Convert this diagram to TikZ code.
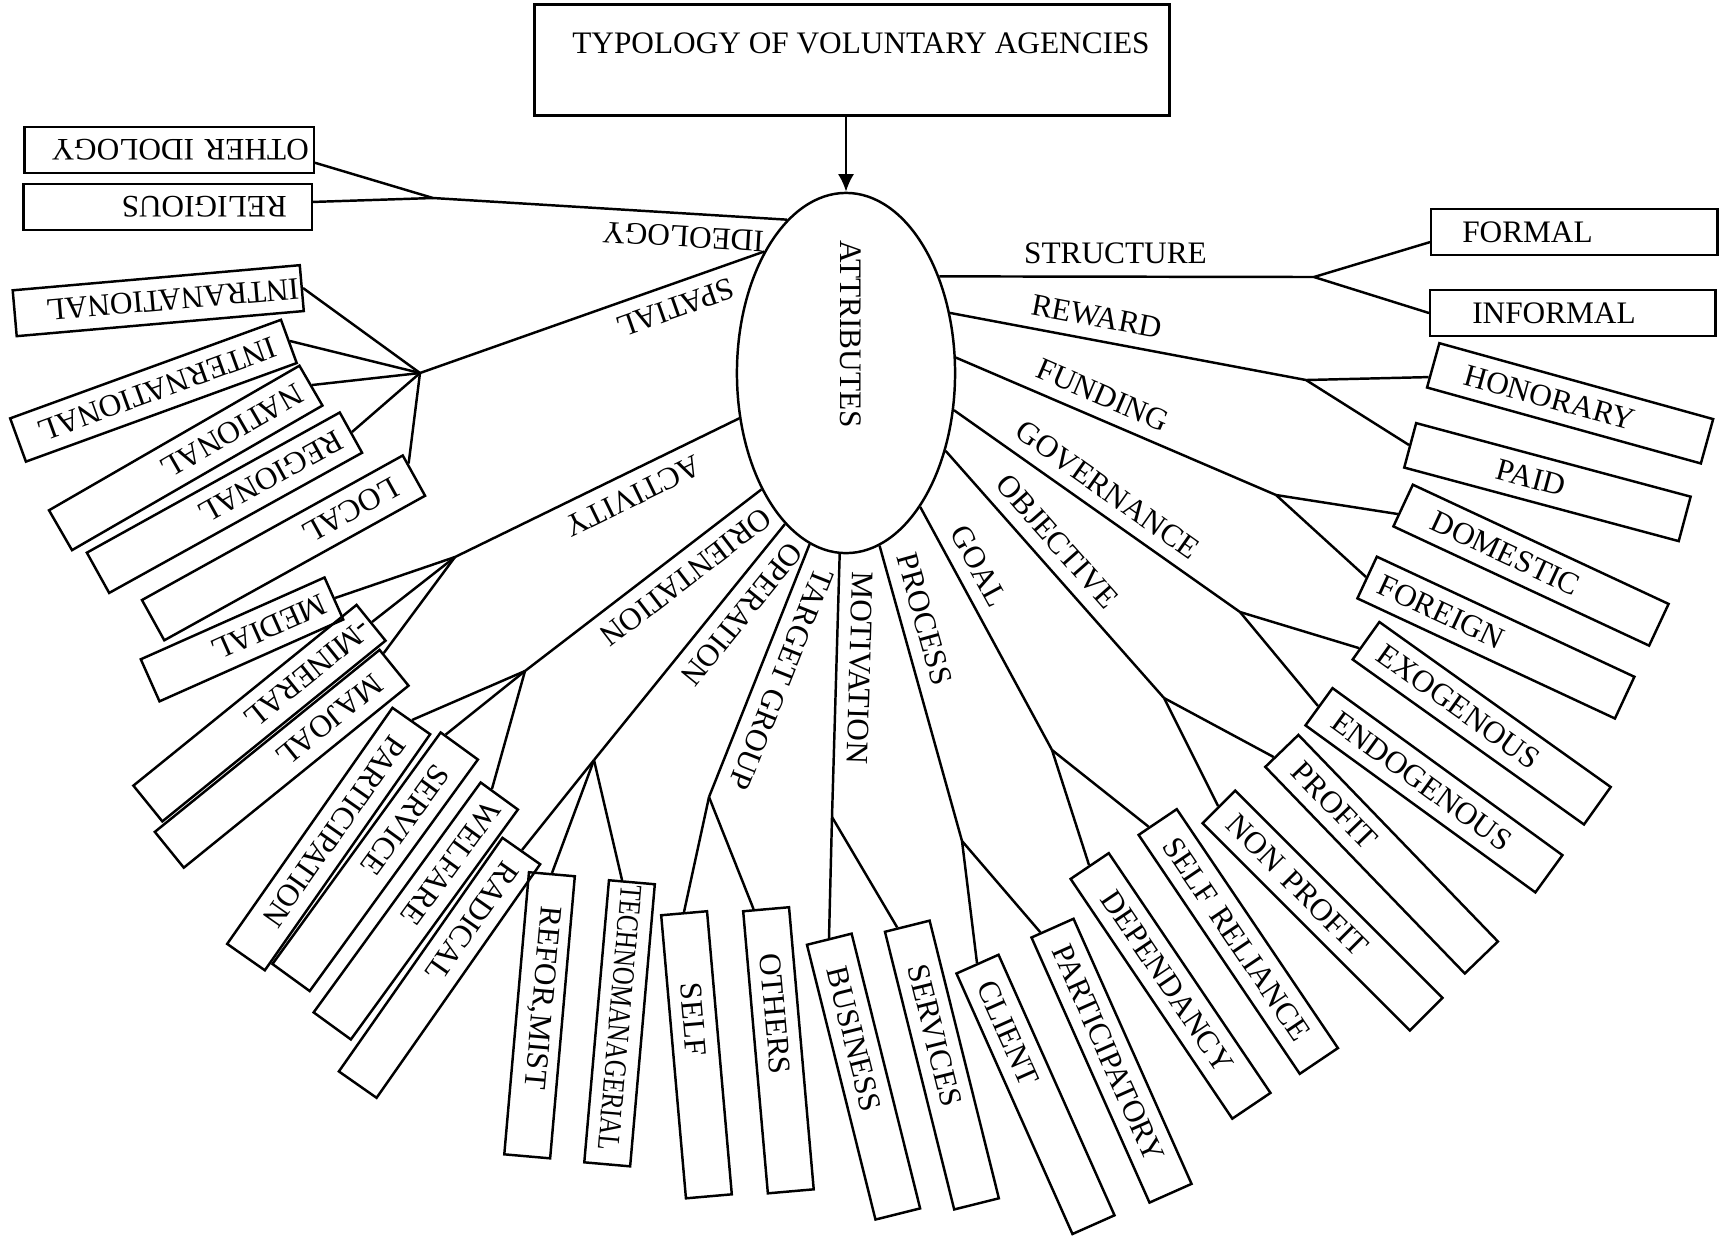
\documentclass[tikz,border=0pt]{standalone}
\usepackage{fontspec}
\setmainfont{Liberation Serif}
\usetikzlibrary{shapes.geometric,arrows.meta}

\begin{document}
\begin{tikzpicture}[x=0.01cm, y=-0.01cm, line width=0.7pt,
    every node/.append style={font=\fontsize{8.9}{10.7}\selectfont},
    catbox/.style={draw, anchor=west, minimum height=0.46cm, inner ysep=0pt, align=left},
    attrlabel/.style={sloped, above, allow upside down}]
\useasboundingbox (0,0) rectangle (1727,1238);

% ---- Title
\node[draw, minimum width=6.35cm, minimum height=1.11cm] (title) at (852,60) {};
\node (titleText) at (861,43) {TYPOLOGY OF VOLUNTARY AGENCIES};

% ---- Attributes
\node[draw, ellipse, minimum width=2.18cm, minimum height=3.6cm, inner sep=0pt] (attributes) at (846,373) {};
\node[rotate=-90] (attributesText) at (851,334) {ATTRIBUTES};
\draw[-{Latex[length=5pt,width=4.6pt]}] (title.south -| attributes.north) -- (attributes.north);

% ---- Junctions
\coordinate (ideologyJunction) at (433,198);
\coordinate (spatialJunction) at (420,373);
\coordinate (activityJunction) at (455,557);
\coordinate (orientationJunction) at (525,671);
\coordinate (operationJunction) at (594,760);
\coordinate (targetJunction) at (709,797);
\coordinate (motivationJunction) at (832,817);
\coordinate (processJunction) at (962,841);
\coordinate (goalJunction) at (1052,750);
\coordinate (objectiveJunction) at (1164,698);
\coordinate (governanceJunction) at (1240,612);
\coordinate (fundingJunction) at (1276,495);
\coordinate (rewardJunction) at (1306,380);
\coordinate (structureJunction) at (1314,277);

% ---- Attribute lines
\draw (attributes.111) -- node[attrlabel, pos=0.29] (ideologyLabel) {IDEOLOGY} (ideologyJunction);
\draw (attributes.124) -- node[attrlabel, pos=0.28] (spatialLabel) {SPATIAL} (spatialJunction);
\draw (attributes.203) -- node[attrlabel, pos=0.41] (activityLabel) {ACTIVITY} (activityJunction);
\draw (attributes.234) -- node[attrlabel, pos=0.38] (orientationLabel) {ORIENTATION} (orientationJunction);
\draw (attributes.248) -- node[attrlabel, pos=0.32] (operationLabel) {OPERATION} (operationJunction);
\draw (attributes.258) -- node[attrlabel, pos=0.5] (targetLabel) {TARGET GROUP} (targetJunction);
\draw (attributes.268) -- node[attrlabel, pos=0.43] (motivationLabel) {MOTIVATION} (motivationJunction);
\draw (attributes.281) -- node[attrlabel, pos=0.27] (processLabel) {PROCESS} (processJunction);
\draw (attributes.299) -- node[attrlabel, pos=0.29] (goalLabel) {GOAL} (goalJunction);
\draw (attributes.322) -- node[attrlabel, pos=0.43] (objectiveLabel) {OBJECTIVE} (objectiveJunction);
\draw (attributes.341) -- node[attrlabel, pos=0.49] (governanceLabel) {GOVERNANCE} (governanceJunction);
\draw (attributes.8) -- node[attrlabel, pos=0.43] (fundingLabel) {FUNDING} (fundingJunction);
\draw (attributes.30) -- node[attrlabel, pos=0.40] (rewardLabel) {REWARD} (rewardJunction);
\draw (attributes.46) -- node[attrlabel, pos=0.47] (structureLabel) {STRUCTURE} (structureJunction);

% ---- Ideology
\node[catbox, rotate=180, minimum width=2.89cm, text width=2.79cm, inner xsep=0.05cm] (otherIdology) at (315,150) {OTHER IDOLOGY};
\node[catbox, rotate=180, minimum width=2.88cm, text width=2.38cm, inner xsep=0.25cm] (religious) at (313,207) {RELIGIOUS};
\draw (ideologyJunction) -- (otherIdology.175);
\draw (ideologyJunction) -- (religious.182);

% ---- Spatial
\node[catbox, rotate=185, minimum width=2.88cm, text width=2.82cm, inner xsep=0.03cm] (intranational) at (303,288) {INTRANATIONAL};
\node[catbox, rotate=200, minimum width=2.88cm, text width=2.58cm, inner xsep=0.15cm] (international) at (290,341) {INTERNATIONAL};
\node[catbox, rotate=210, minimum width=2.89cm, text width=2.65cm, inner xsep=0.12cm] (national) at (312,385) {NATIONAL};
\node[catbox, rotate=209, minimum width=2.89cm, text width=2.65cm, inner xsep=0.12cm] (regional) at (352,432) {REGIONAL};
\node[catbox, rotate=209, minimum width=2.98cm, text width=2.58cm, inner xsep=0.2cm] (local) at (415,475) {LOCAL};
\draw (spatialJunction) -- (intranational.west);
\draw (spatialJunction) -- (international.west);
\draw (spatialJunction) -- (national.west);
\draw (spatialJunction) -- (regional.west);
\draw (spatialJunction) -- (local.185);

% ---- Activity
\node[catbox, rotate=204, minimum width=2.01cm, text width=1.81cm, inner xsep=0.1cm] (medial) at (335,598) {MEDIAL};
\node[catbox, rotate=219, minimum width=2.87cm, text width=2.77cm, inner xsep=0.05cm] (mineral) at (372,622) {-MINERAL};
\node[catbox, rotate=219, minimum width=2.89cm, text width=2.49cm, inner xsep=0.2cm] (majoal) at (395,667) {MAJOAL};
\draw (activityJunction) -- (medial.west);
\draw (activityJunction) -- (mineral.west);
\draw (activityJunction) -- (majoal.187);

% ---- Orientation
\node[catbox, rotate=235, minimum width=2.88cm, text width=2.44cm, inner xsep=0.22cm] (participation) at (412,720) {PARTICIPATION};
\node[catbox, rotate=234, minimum width=2.86cm, text width=2.30cm, inner xsep=0.28cm] (service) at (460,745) {SERVICE};
\node[catbox, rotate=234, minimum width=2.84cm, text width=2.64cm, inner xsep=0.1cm] (welfare) at (500,795) {WELFARE};
\draw (orientationJunction) -- (participation.west);
\draw (orientationJunction) -- (service.187);
\draw (orientationJunction) -- (welfare.184);

% ---- Operation
\node[catbox, rotate=235, minimum width=2.85cm, text width=2.51cm, inner xsep=0.17cm] (radical) at (522,850) {RADICAL};
\node[catbox, rotate=265, minimum width=2.83cm, text width=2.19cm, inner xsep=0.32cm] (reformist) at (552,873) {REFOR,MIST};
\node[catbox, rotate=265, minimum width=2.83cm, text width=2.77cm, inner xsep=0.03cm] (technomanagerial) at (632,881) {\scalebox{0.79}[1]{TECHNOMANAGERIAL}};
\draw (operationJunction) -- (radical.west);
\draw (operationJunction) -- (reformist.west);
\draw (operationJunction) -- (technomanagerial.184);

% ---- Target group
\node[catbox, rotate=-85, minimum width=2.84cm, text width=1.44cm, inner xsep=0.7cm] (self) at (684,912) {SELF};
\node[catbox, rotate=-85, minimum width=2.83cm, text width=1.95cm, inner xsep=0.44cm] (others) at (766,908) {OTHERS};
\draw (targetJunction) -- (self.west);
\draw (targetJunction) -- (others.185);

% ---- Motivation
\node[catbox, rotate=-76, minimum width=2.83cm, text width=2.25cm, inner xsep=0.29cm] (business) at (829,938) {BUSINESS};
\node[catbox, rotate=-76, minimum width=2.86cm, text width=2.06cm, inner xsep=0.4cm] (services) at (907,925) {SERVICES};
\draw (motivationJunction) -- (business.west);
\draw (motivationJunction) -- (services.184);

% ---- Process
\node[catbox, rotate=-66, minimum width=2.85cm, text width=2.45cm, inner xsep=0.2cm] (client) at (977,963) {CLIENT};
\node[catbox, rotate=-66, minimum width=2.9cm, text width=2.5cm, inner xsep=0.2cm] (participatory) at (1052,927) {PARTICIPATORY};
\draw (processJunction) -- (client.west);
\draw (processJunction) -- (participatory.185);

% ---- Goal
\node[catbox, rotate=-56, minimum width=2.89cm, text width=2.23cm, inner xsep=0.33cm] (dependancy) at (1089,865) {DEPENDANCY};
\node[catbox, rotate=-56, minimum width=2.88cm, text width=2.44cm, inner xsep=0.22cm] (selfReliance) at (1157,821) {SELF RELIANCE};
\draw (goalJunction) -- (dependancy.west);
\draw (goalJunction) -- (selfReliance.184);

% ---- Objective
\node[catbox, rotate=-45, minimum width=2.93cm, text width=2.57cm, inner xsep=0.18cm] (nonProfit) at (1218,806) {NON PROFIT};
\node[catbox, rotate=-46, minimum width=2.87cm, text width=2.43cm, inner xsep=0.22cm] (profit) at (1281,750) {PROFIT};
\draw (objectiveJunction) -- (nonProfit.west);
\draw (objectiveJunction) -- (profit.184);

% ---- Governance
\node[catbox, rotate=-36, minimum width=2.84cm, text width=2.44cm, inner xsep=0.2cm] (endogenous) at (1318,706) {ENDOGENOUS};
\node[catbox, rotate=-35.5, minimum width=2.84cm, text width=2.48cm, inner xsep=0.18cm] (exogenous) at (1365,640) {EXOGENOUS};
\draw (governanceJunction) -- (endogenous.west);
\draw (governanceJunction) -- (exogenous.184);

% ---- Funding
\node[catbox, rotate=-25, minimum width=2.84cm, text width=2.56cm, inner xsep=0.14cm] (foreign) at (1366,577) {FOREIGN};
\node[catbox, rotate=-25, minimum width=2.82cm, text width=2.16cm, inner xsep=0.33cm] (domestic) at (1402,505) {DOMESTIC};
\draw (fundingJunction) -- (foreign.west);
\draw (fundingJunction) -- (domestic.184);

% ---- Reward
\node[catbox, rotate=-15, minimum width=2.84cm, text width=1.04cm, inner xsep=0.9cm] (paid) at (1409,445) {PAID};
\node[catbox, rotate=-15.5, minimum width=2.84cm, text width=2.18cm, inner xsep=0.33cm] (honorary) at (1432,365) {HONORARY};
\draw (rewardJunction) -- (paid.west);
\draw (rewardJunction) -- (honorary.185);

% ---- Structure
\node[catbox, minimum width=2.85cm, text width=2.01cm, inner xsep=0.42cm] (informal) at (1429,313) {INFORMAL};
\node[catbox, minimum width=2.86cm, text width=2.24cm, inner xsep=0.31cm] (formal) at (1430,232) {FORMAL};
\draw (structureJunction) -- (informal.west);
\draw (structureJunction) -- (formal.184);
\end{tikzpicture}
\end{document}
